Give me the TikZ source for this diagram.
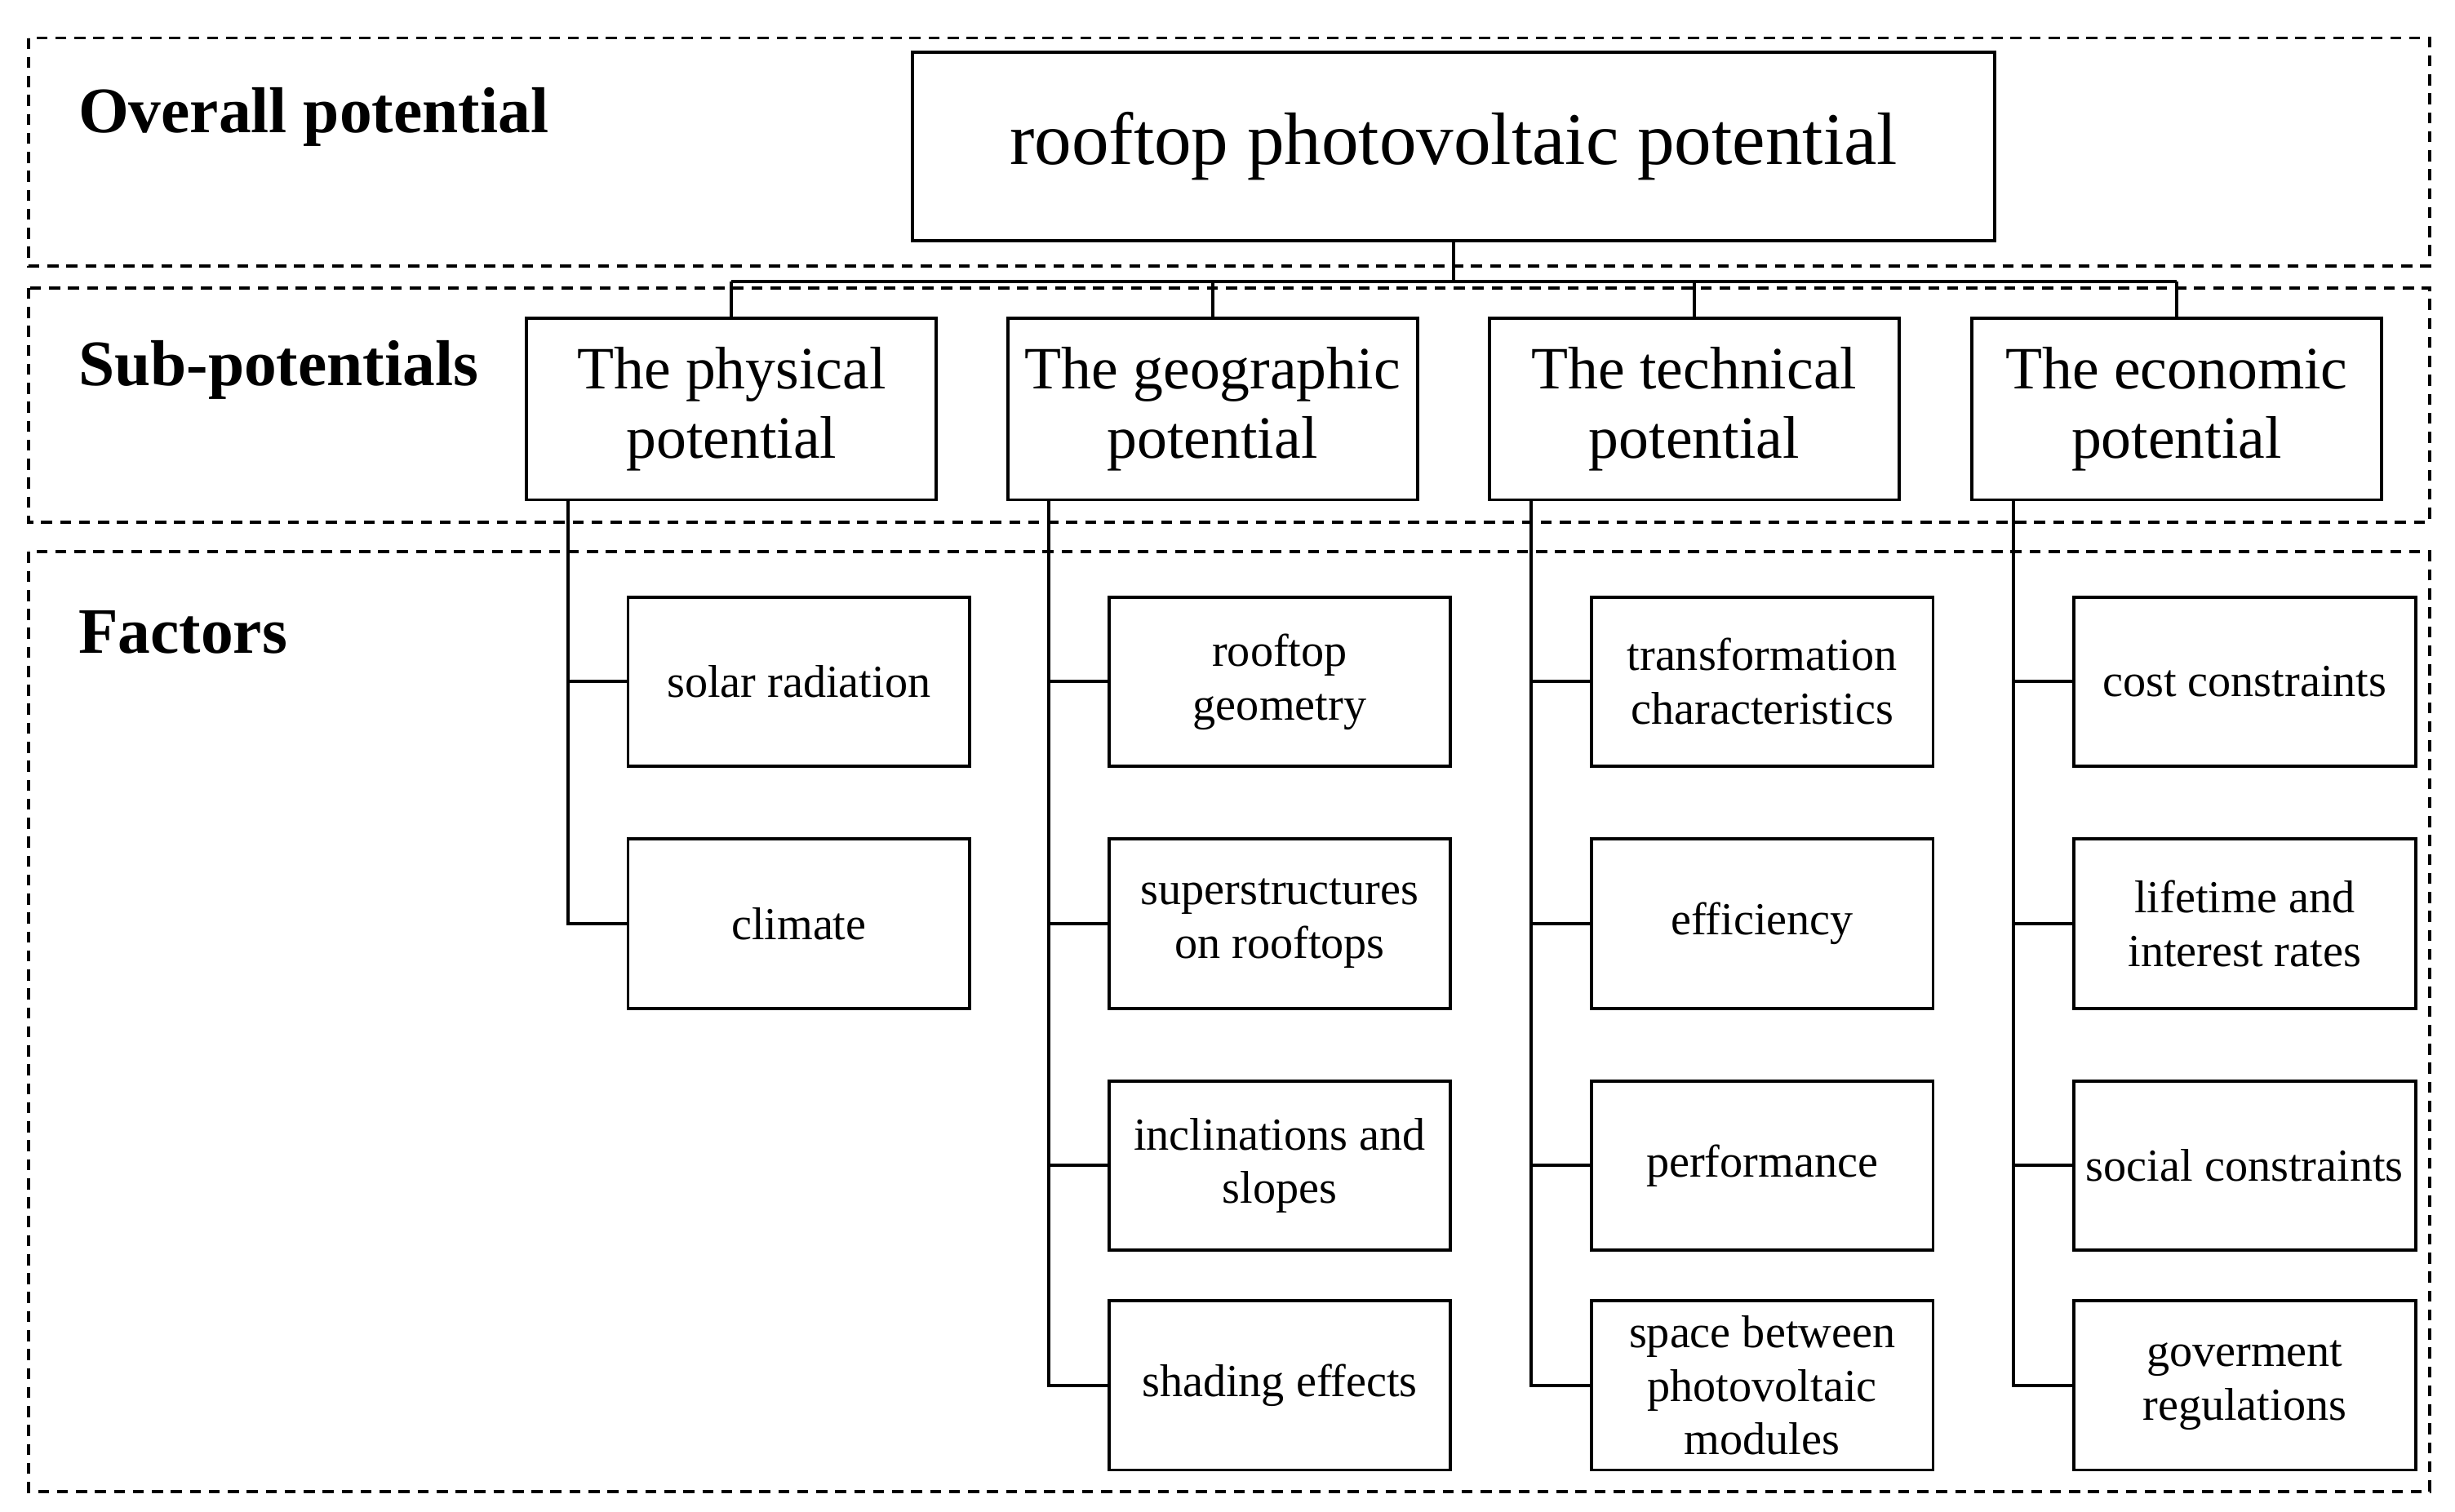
\documentclass[tikz,border=0pt]{standalone}
\usepackage{fontspec}
\setmainfont{Liberation Serif}
\begin{document}
\begin{tikzpicture}[x=1pt,y=-1pt,
 zone/.style={draw,dashed,line width=2pt,dash pattern=on 7pt off 5pt},
 box/.style={draw,line width=2pt,align=center,inner sep=0pt},
 lab/.style={anchor=west,font=\fontsize{41}{46}\selectfont\bfseries},
 sub/.style={box,minimum width=259pt,minimum height=115pt,font=\fontsize{38}{44}\selectfont},
 fac/.style={box,minimum width=216pt,minimum height=107pt,font=\fontsize{29}{34}\selectfont},
 con/.style={line width=2pt}]
\useasboundingbox (0,0) rectangle (1552,956);
\draw[zone] (18,24) rectangle (1536,168);
\draw[zone] (18,182) rectangle (1536,330);
\draw[zone] (18,349) rectangle (1536,943);
\node[lab] (l1) at (46,74) {Overall potential};
\node[lab] (l2) at (46,234) {Sub-potentials};
\node[lab] (l3) at (46,400) {Factors};
\node[box,minimum width=684pt,minimum height=119pt,font=\fontsize{47}{52}\selectfont] (top) at (919,92.5) {rooftop photovoltaic potential};
\node[sub] (s1) at (462.5,258.5) {The physical\\potential};
\node[sub] (s2) at (766.5,258.5) {The geographic\\potential};
\node[sub] (s3) at (1071,258.5) {The technical\\potential};
\node[sub] (s4) at (1376,258.5) {The economic\\potential};
\coordinate (j) at (919,178);
\draw[con] (top.south) -- (j);
\foreach \s in {s1,s2,s3,s4} \draw[con] (\s.north) -- (\s.north |- j);
\draw[con] (s1.north |- j) -- (s4.north |- j);
% factors
\node[fac] (a1) at (505,431) {solar radiation};
\node[fac] (a2) at (505,584) {climate};
\node[fac] (b1) at (809,431) {rooftop\\geometry};
\node[fac] (b2) at (809,584) {superstructures\\on rooftops};
\node[fac] (b3) at (809,737) {inclinations and\\slopes};
\node[fac] (b4) at (809,876) {shading effects};
\node[fac] (c1) at (1114,431) {transformation\\characteristics};
\node[fac] (c2) at (1114,584) {efficiency};
\node[fac] (c3) at (1114,737) {performance};
\node[fac] (c4) at (1114,876) {space between\\photovoltaic\\modules};
\node[fac] (d1) at (1419,431) {cost constraints};
\node[fac] (d2) at (1419,584) {lifetime and\\interest rates};
\node[fac] (d3) at (1419,737) {social constraints};
\node[fac] (d4) at (1419,876) {goverment\\regulations};
\coordinate (t1) at (359,316.5);
\coordinate (t2) at (663,316.5);
\coordinate (t3) at (968,316.5);
\coordinate (t4) at (1273,316.5);
\draw[con] (t1) |- (a2.west); \draw[con] (t1 |- a1.west) -- (a1.west);
\draw[con] (t2) |- (b4.west);
\foreach \n in {b1,b2,b3} \draw[con] (t2 |- \n.west) -- (\n.west);
\draw[con] (t3) |- (c4.west);
\foreach \n in {c1,c2,c3} \draw[con] (t3 |- \n.west) -- (\n.west);
\draw[con] (t4) |- (d4.west);
\foreach \n in {d1,d2,d3} \draw[con] (t4 |- \n.west) -- (\n.west);
\end{tikzpicture}
\end{document}
